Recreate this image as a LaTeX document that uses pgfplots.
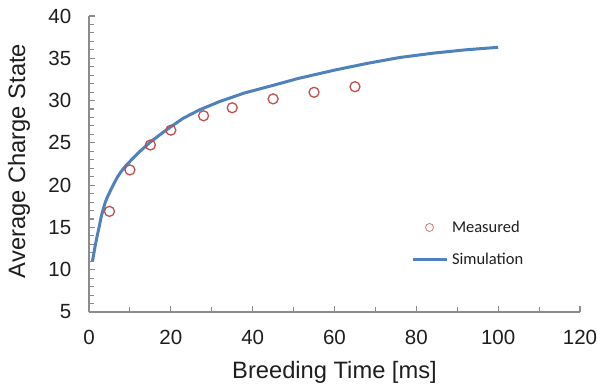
\documentclass[border=0pt]{standalone}
\usepackage{pgfplots}
\pgfplotsset{compat=1.18}
\usepackage{fontspec}
\setmainfont{Liberation Sans}
\newfontfamily\carlito{Carlito}
\definecolor{simblue}{HTML}{4F81BD}
\definecolor{measred}{HTML}{C0504D}
\definecolor{legred}{HTML}{D08584}
\definecolor{axgray}{HTML}{8C8C8C}
\definecolor{txt}{HTML}{1E1E1E}
\pgfplotsset{
  measleg/.style={legend image code/.code={\draw[mark repeat=2,mark phase=2,##1] plot coordinates {(0pt,0pt)(17pt,0pt)(34pt,0pt)};}},
  simleg/.style={legend image code/.code={\draw[##1] (0pt,0pt) -- (34pt,0pt);}}
}
\begin{document}
\begin{tikzpicture}
\useasboundingbox (0,0) rectangle (597pt,384pt);
\begin{axis}[
  at={(89pt,72pt)}, anchor=south west,
  scale only axis, width=491pt, height=296pt,
  xmin=0, xmax=120, ymin=5, ymax=40,
  axis lines*=left,
  axis line style={axgray, line width=1.1pt},
  xtick={0,20,...,120}, minor x tick num=1,
  ytick={5,10,...,40}, minor y tick num=4,
  tick align=inside,
  major tick length=6.5pt, minor tick length=5pt,
  tick style={axgray, line width=1.1pt},
  /pgf/number format/assume math mode=true,
  ticklabel style={font=\fontsize{20.5}{24}\selectfont, text=txt, inner sep=0pt},
  xticklabel style={anchor=base, yshift=-32pt},
  yticklabel style={anchor=east, xshift=-17.5pt},
  xlabel={Breeding Time [ms]},
  ylabel={Average Charge State},
  label style={font=\fontsize{23.7}{28}\selectfont, text=txt, inner sep=0pt},
  xlabel style={at={(axis description cs:0.5,0)}, anchor=base, yshift=-66.8pt},
  ylabel style={at={(axis description cs:-0.1303,0.51)}, anchor=base},
  legend style={draw=none, fill=none, inner sep=0pt, outer sep=0pt,
    at={(axis description cs:0.6558,0.3126)}, anchor=north west,
    row sep=16pt, column sep=4pt,
    nodes={inner sep=0pt, text height=13.3pt, text depth=2.7pt},
    font=\carlito\fontsize{16.5}{19}\selectfont, text=txt},
  legend cell align=left,
]
\addplot[simblue, line width=3pt, line join=round, forget plot] coordinates {
(0.85,11.0) (1.5,12.8) (2,14.0) (2.5,15.1) (3,16.3) (3.5,17.2) (4,18.0)
(4.5,18.6) (5,19.1) (6,20.1) (7,21.0) (8,21.7) (9,22.3) (10,22.8)
(12,23.8) (15,25.1) (18,26.2) (20,26.9) (23,27.9) (27,28.9)
(32,29.9) (38,30.9) (45,31.8) (51,32.6) (60,33.6) (68,34.4) (76,35.1)
(84,35.6) (92,36.0) (100,36.3)
};
\addplot[only marks, mark=o, mark size=5pt, mark options={measred, line width=1.3pt}, forget plot] coordinates {
(5,16.9) (10,21.8) (15,24.75) (20,26.5) (28,28.2) (35,29.15) (45,30.2) (55,30.98) (65,31.64)
};
\addlegendimage{only marks, mark=o, mark size=4pt, mark options={legred, line width=0.9pt}, measleg}
\addlegendentry{Measured}
\addlegendimage{simblue, line width=3pt, simleg}
\addlegendentry{Simulation}
\end{axis}
\end{tikzpicture}
\end{document}
